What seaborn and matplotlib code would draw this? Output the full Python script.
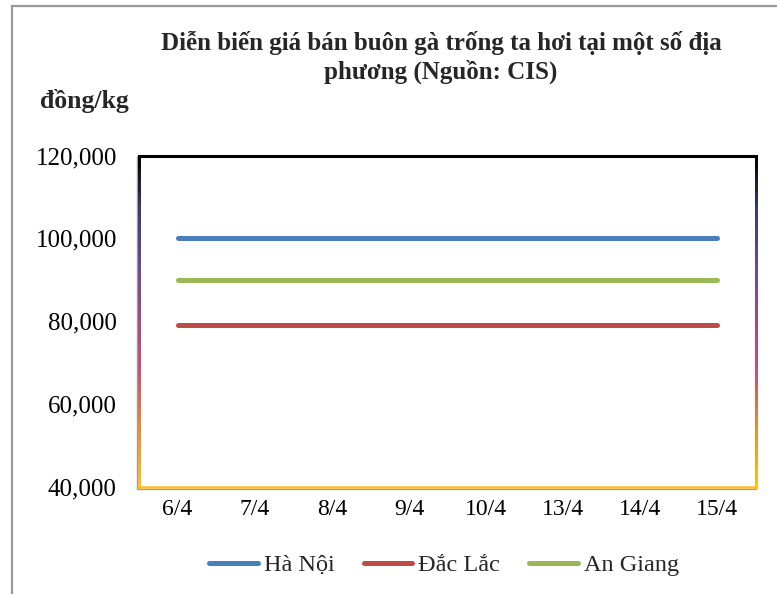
import numpy as np
import pandas as pd
import matplotlib
matplotlib.use("Agg")
import matplotlib.pyplot as plt
import seaborn as sns
from matplotlib.collections import LineCollection
from matplotlib.patches import Rectangle

# Wholesale price of live rooster (đồng/kg) by market
dates = ["6/4", "7/4", "8/4", "9/4", "10/4", "13/4", "14/4", "15/4"]
ha_noi = [100000, 100000, 100000, 100000, 100000, 100000, 100000, 100000]
dac_lac = [79000, 79000, 79000, 79000, 79000, 79000, 79000, 79000]
an_giang = [90000, 90000, 90000, 90000, 90000, 90000, 90000, 90000]
series_names = ["Hà Nội", "Đắc Lắc", "An Giang"]
y_ticks = [40000, 60000, 80000, 100000, 120000]

df = pd.DataFrame({
    "Ngày": dates * 3,
    "Giá": ha_noi + dac_lac + an_giang,
    "Địa phương": [series_names[0]] * len(dates)
                 + [series_names[1]] * len(dates)
                 + [series_names[2]] * len(dates),
})

sns.set_theme(style="white")
plt.rcParams["font.family"] = ["Liberation Serif", "DejaVu Serif"]

fig = plt.figure(figsize=(7.77, 5.94), dpi=100)
ax = fig.add_axes([139 / 777, 1 - 486.7 / 594, (756 - 139) / 777, (486.7 - 155.7) / 594])

palette = {"Hà Nội": "#4a7ebb", "Đắc Lắc": "#be4b48", "An Giang": "#98b954"}
sns.lineplot(data=df, x="Ngày", y="Giá", hue="Địa phương", palette=palette,
             hue_order=series_names, linewidth=3.6, ax=ax, sort=False,
             legend=True)
for ln in ax.get_lines():
    ln.set_solid_capstyle("round")

ax.set_xlim(-0.5, len(dates) - 0.5)
ax.set_ylim(40000, 120000)
ax.set_yticks(y_ticks)
ax.set_yticklabels([f"{v:,}" for v in y_ticks])
ax.set_xlabel("")
ax.set_ylabel("")
ax.tick_params(axis="y", length=0, pad=16, labelsize=18, colors="black")
ax.tick_params(axis="x", length=0, pad=9, labelsize=17, colors="black")
for s in ax.spines.values():
    s.set_visible(False)

# Plot-area frame: black top, shaded sides fading to gold at the bottom
grad = ["#000000", "#3c3c78", "#6a4a8e", "#a04a8c", "#d05070", "#f08a30", "#f8c020"]
cmap = matplotlib.colors.LinearSegmentedColormap.from_list("frame", grad)
n = 120
ys = np.linspace(1, 0, n + 1)
for xpos in (0, 1):
    pts = np.column_stack([np.full(n + 1, xpos), ys])
    segs = np.stack([pts[:-1], pts[1:]], axis=1)
    lc = LineCollection(segs, colors=cmap(np.linspace(0, 1, n)), linewidths=1.8,
                        transform=ax.transAxes, clip_on=False, zorder=5,
                        antialiaseds=False)
    lc.set_capstyle("projecting")
    ax.add_collection(lc)
ax.plot([0, 1], [1, 1], color="black", lw=2.2, transform=ax.transAxes,
        clip_on=False, zorder=6, solid_capstyle="projecting")
ax.plot([0, 1], [0, 0], color="#f8c020", lw=1.8, transform=ax.transAxes,
        clip_on=False, zorder=6)
# faint shadow under the frame
ax.plot([-0.003, -0.003, 1.0], [1.0, -0.006, -0.006], color="#a0a0a0", lw=1.0,
        transform=ax.transAxes, clip_on=False, zorder=4)

# Legend below the plot
handles, labels = ax.get_legend_handles_labels()
ax.get_legend().remove()
for h in handles:
    h.set_solid_capstyle("round")
fig.legend(handles, labels, loc="center", bbox_to_anchor=(444 / 777, 1 - 565 / 594),
           ncol=3, frameon=False, fontsize=17.5, handlelength=2.0, handletextpad=0.25,
           columnspacing=1.2)

# Titles
fig.text(441 / 777, 1 - 43 / 594, "Diễn biến giá bán buôn gà trống ta hơi tại một số địa",
         ha="center", va="center", fontsize=18, fontweight="bold")
fig.text(441 / 777, 1 - 72 / 594, "phương (Nguồn: CIS)",
         ha="center", va="center", fontsize=18, fontweight="bold")
fig.text(40 / 777, 1 - 101 / 594, "đồng/kg", ha="left", va="center",
         fontsize=18.5, fontweight="bold")

# Outer chart border
fig.patches.append(Rectangle((12 / 777, -0.2), 1.5, 1.2 - 6 / 594,
                             transform=fig.transFigure, fill=False,
                             edgecolor="#9a9a9a", linewidth=1.6))

fig.savefig("out.png", dpi=100)
